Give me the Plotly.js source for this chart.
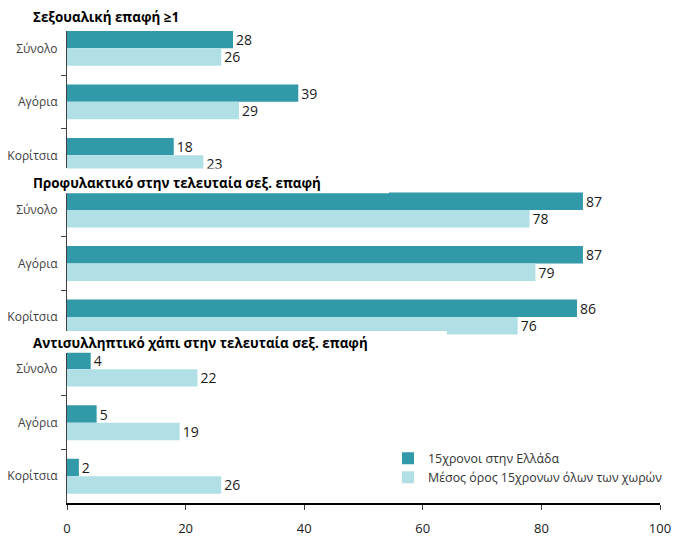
<!DOCTYPE html>
<html>
<head>
<meta charset="utf-8">
<script src="https://cdn.plot.ly/plotly-3.0.1.min.js"></script>
<style>html,body{margin:0;padding:0;background:#fff;}#chart{width:674px;height:537px;}</style>
</head>
<body>
<div id="chart"></div>
<script>
// ---- data ----
const categories = ['Σύνολο', 'Αγόρια', 'Κορίτσια'];
const panelTitles = [
  'Σεξουαλική επαφή ≥1',
  'Προφυλακτικό στην τελευταία σεξ. επαφή',
  'Αντισυλληπτικό χάπι στην τελευταία σεξ. επαφή'
];
const seriesNames = ['15χρονοι στην Ελλάδα', 'Μέσος όρος 15χρονων όλων των χωρών'];
// Greece 15-year-olds
const greeceSex = [28, 39, 18];
const greeceCondom = [87, 87, 86];
const greecePill = [4, 5, 2];
// Average of all countries
const avgSex = [26, 29, 23];
const avgCondom = [78, 79, 76];
const avgPill = [22, 19, 26];
const xTicks = [0, 20, 40, 60, 80, 100];

// ---- styling ----
const DARK = '#3199A8';
const LIGHT = '#B0E0E6';
const FONT = 'Open Sans, Noto Sans, sans-serif';

const greece = [greeceSex, greeceCondom, greecePill];
const avg = [avgSex, avgCondom, avgPill];
const yaxes = ['y', 'y2', 'y3'];

const traces = [];
for (let p = 0; p < 3; p++) {
  [[greece[p], DARK, 0], [avg[p], LIGHT, 1]].forEach(([vals, col, s]) => {
    traces.push({
      type: 'bar',
      orientation: 'h',
      x: vals,
      y: categories,
      yaxis: yaxes[p],
      xaxis: 'x',
      name: seriesNames[s],
      legendgroup: 's' + s,
      showlegend: p === 0,
      marker: {color: col, line: {width: 0}},
      text: vals.map(String),
      textposition: 'outside',
      constraintext: 'none',
      cliponaxis: true,
      textfont: {family: FONT, size: 14, color: '#1a1a1a'},
      hoverinfo: 'x+y'
    });
  });
}

const yBase = {
  type: 'category',
  showline: true,
  linecolor: '#404040',
  linewidth: 1,
  ticks: 'outside',
  tickson: 'boundaries',
  ticklen: 5,
  tickcolor: '#404040',
  showgrid: false,
  zeroline: false,
  anchor: 'x',
  ticklabelstandoff: 6,
  tickfont: {family: FONT, size: 12, color: '#404040'},
  fixedrange: true
};

const layout = {
  width: 674,
  height: 537,
  margin: {l: 67, r: 14, t: 0, b: 34, autoexpand: false},
  paper_bgcolor: '#fff',
  plot_bgcolor: 'rgba(0,0,0,0)',
  barmode: 'group',
  bargap: 0.35,
  bargroupgap: 0,
  showlegend: true,
  legend: {
    x: 0.5413, xanchor: 'left',
    y: 0.118, yanchor: 'top',
    font: {family: FONT, size: 12.4, color: '#333'},
    bgcolor: 'rgba(0,0,0,0)',
    traceorder: 'normal'
  },
  xaxis: {
    range: [0, 100],
    tickvals: xTicks,
    showline: true,
    linecolor: '#000',
    linewidth: 1.5,
    ticks: 'outside',
    ticklen: 5,
    tickcolor: '#404040',
    showgrid: false,
    zeroline: false,
    anchor: 'y3',
    ticklabelstandoff: 8,
    tickfont: {family: FONT, size: 13, color: '#1a1a1a'},
    fixedrange: true
  },
  yaxis: Object.assign({}, yBase, {domain: [0.66501, 0.93936], range: [2.2467, -0.3327]}),
  yaxis2: Object.assign({}, yBase, {domain: [0.33201, 0.61829], range: [2.3551, -0.3364]}),
  yaxis3: Object.assign({}, yBase, {domain: [0, 0.29881], range: [2.5, -0.309]}),
  shapes: [
    {type: 'rect', xref: 'paper', yref: 'paper', x0: -0.12, x1: 0.543, y0: 0.6157, y1: 0.64,
     fillcolor: '#fff', line: {width: 0}, layer: 'above'},
    {type: 'rect', xref: 'paper', yref: 'paper', x0: -0.12, x1: 0.6408, y0: 0.31, y1: 0.3419,
     fillcolor: '#fff', line: {width: 0}, layer: 'above'}
  ],
  annotations: [
    {y: 0.9662}, {y: 0.6362}, {y: 0.3181}
  ].map((a, i) => ({
    xref: 'paper', yref: 'paper', x: -0.0607, y: a.y,
    xanchor: 'left', yanchor: 'middle', showarrow: false,
    text: '<b>' + panelTitles[i] + '</b>',
    font: {family: FONT, size: 13.4, color: '#000'}
  }))
};

Plotly.newPlot('chart', traces, layout, {displayModeBar: false, staticPlot: false});
</script>
</body>
</html>
